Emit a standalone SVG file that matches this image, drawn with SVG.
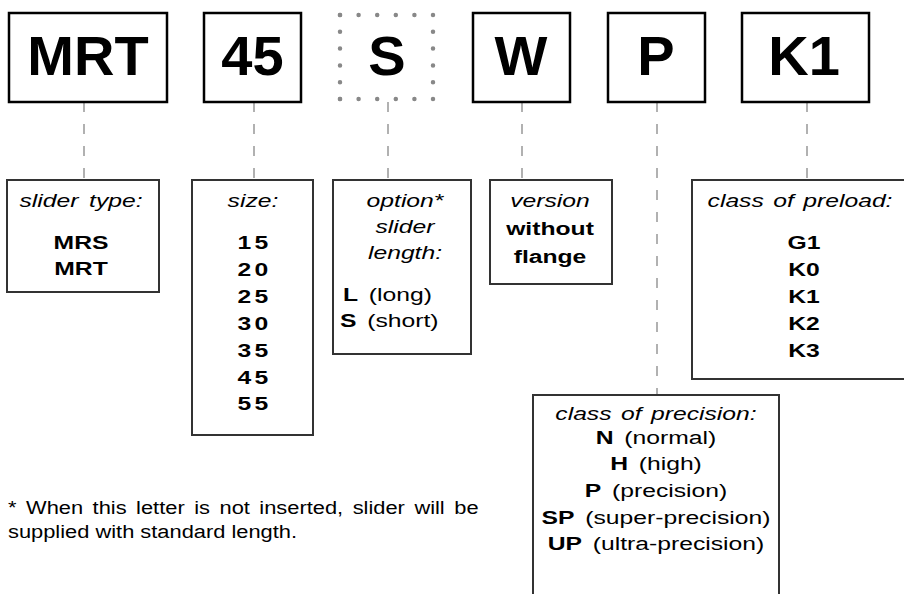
<svg xmlns="http://www.w3.org/2000/svg" width="904" height="594" viewBox="0 0 904 594">
<style>
.big{font-family:"Liberation Sans",Arial,sans-serif;font-weight:bold;font-size:56px;fill:#000;text-anchor:middle}
.t{font-family:"Liberation Sans",Arial,sans-serif;font-size:19px;fill:#000;text-anchor:middle}
.s{text-anchor:start}
.i{font-style:italic}
.b{font-weight:bold}
.num{font-weight:bold;letter-spacing:2.5px}
.topbox{fill:#fff;stroke:#000;stroke-width:2.5}
.box{fill:#fff;stroke:#333;stroke-width:2}
.dash{stroke:#888;stroke-width:1.3;stroke-dasharray:10 12;fill:none}
.dot{stroke:#888;stroke-width:4.5;stroke-linecap:round;fill:none}
</style>
<rect width="904" height="594" fill="#fff"/>
<g id="connectors">
<line class="dash" x1="84" y1="102" x2="84" y2="180"/>
<line class="dash" x1="254" y1="102" x2="254" y2="180"/>
<line class="dash" x1="388" y1="102" x2="388" y2="180"/>
<line class="dash" x1="522" y1="102" x2="522" y2="180"/>
<line class="dash" x1="657" y1="102" x2="657" y2="395"/>
<line class="dash" x1="807" y1="102" x2="807" y2="180"/>
</g>
<g id="code-MRT"><rect class="topbox" x="9" y="13" width="158" height="89"/><text class="big" x="88" y="75">MRT</text></g>
<g id="code-45"><rect class="topbox" x="204" y="13" width="97" height="89"/><text class="big" x="252.5" y="75">45</text></g>
<g id="code-S">
<line class="dot" x1="340" y1="15" x2="433" y2="15" stroke-dasharray="0 18.6"/>
<line class="dot" x1="340" y1="99" x2="433" y2="99" stroke-dasharray="0 18.6"/>
<line class="dot" x1="340" y1="15" x2="340" y2="99" stroke-dasharray="0 16.8"/>
<line class="dot" x1="433" y1="15" x2="433" y2="99" stroke-dasharray="0 16.8"/>
<text class="big" x="387" y="75">S</text></g>
<g id="code-W"><rect class="topbox" x="473" y="13" width="97" height="89"/><text class="big" x="521" y="75">W</text></g>
<g id="code-P"><rect class="topbox" x="608" y="13" width="97" height="89"/><text class="big" x="656" y="75">P</text></g>
<g id="code-K1"><rect class="topbox" x="742" y="13" width="127" height="89"/><text class="big" x="804" y="75">K1</text></g>

<g id="slider-type"><rect class="box" x="7" y="180" width="152" height="112"/>
<g transform="translate(81 0) scale(1.3 1)">
<text class="t i" x="0" y="207" word-spacing="3">slider type:</text>
<text class="t b" x="0" y="249">MRS</text>
<text class="t b" x="0" y="275">MRT</text></g></g>

<g id="size"><rect class="box" x="192" y="180" width="121" height="255"/>
<g transform="translate(253 0) scale(1.3 1)">
<text class="t i" x="0" y="207">size:</text>
<text class="t num" x="1.2" y="249">15</text>
<text class="t num" x="1.2" y="276">20</text>
<text class="t num" x="1.2" y="303">25</text>
<text class="t num" x="1.2" y="330">30</text>
<text class="t num" x="1.2" y="357">35</text>
<text class="t num" x="1.2" y="384">45</text>
<text class="t num" x="1.2" y="410">55</text></g></g>

<g id="option"><rect class="box" x="333" y="180" width="138" height="174"/>
<g transform="translate(405 0) scale(1.3 1)">
<text class="t i" x="0" y="207">option*</text>
<text class="t i" x="0" y="233">slider</text>
<text class="t i" x="0" y="259">length:</text></g>
<g transform="translate(343 0) scale(1.3 1)">
<text class="t s" x="0" y="301"><tspan class="b">L</tspan> <tspan dx="3">(long)</tspan></text>
<text class="t s" x="-2.3" y="327"><tspan class="b">S</tspan> <tspan dx="3">(short)</tspan></text></g></g>

<g id="version"><rect class="box" x="490" y="180" width="122" height="104"/>
<g transform="translate(550 0) scale(1.3 1)">
<text class="t i" x="0" y="207">version</text>
<text class="t b" x="0" y="235">without</text>
<text class="t b" x="0" y="263">flange</text></g></g>

<g id="preload"><rect class="box" x="692" y="180" width="220" height="199"/>
<g transform="translate(800 0) scale(1.3 1)">
<text class="t i" x="0" y="207" word-spacing="2">class of preload:</text>
<text class="t b" x="3" y="249">G1</text>
<text class="t b" x="3" y="276">K0</text>
<text class="t b" x="3" y="303">K1</text>
<text class="t b" x="3" y="330">K2</text>
<text class="t b" x="3" y="357">K3</text></g></g>

<g id="precision"><rect class="box" x="533" y="395" width="246" height="210"/>
<g transform="translate(656 0) scale(1.3 1)">
<text class="t i" x="0" y="420" word-spacing="2">class of precision:</text>
<text class="t" x="0" y="444"><tspan class="b">N</tspan> <tspan dx="3">(normal)</tspan></text>
<text class="t" x="0" y="470"><tspan class="b">H</tspan> <tspan dx="3">(high)</tspan></text>
<text class="t" x="0" y="497"><tspan class="b">P</tspan> <tspan dx="3">(precision)</tspan></text>
<text class="t" x="0" y="524"><tspan class="b">SP</tspan> <tspan dx="3">(super-precision)</tspan></text>
<text class="t" x="0" y="550"><tspan class="b">UP</tspan> <tspan dx="3">(ultra-precision)</tspan></text></g></g>

<g id="footnote" transform="translate(8 0) scale(1.15 1)">
<text class="t s" x="0" y="514" word-spacing="3">* When this letter is not inserted, slider will be</text>
<text class="t s" x="0" y="538">supplied with standard length.</text>
</g>
</svg>
